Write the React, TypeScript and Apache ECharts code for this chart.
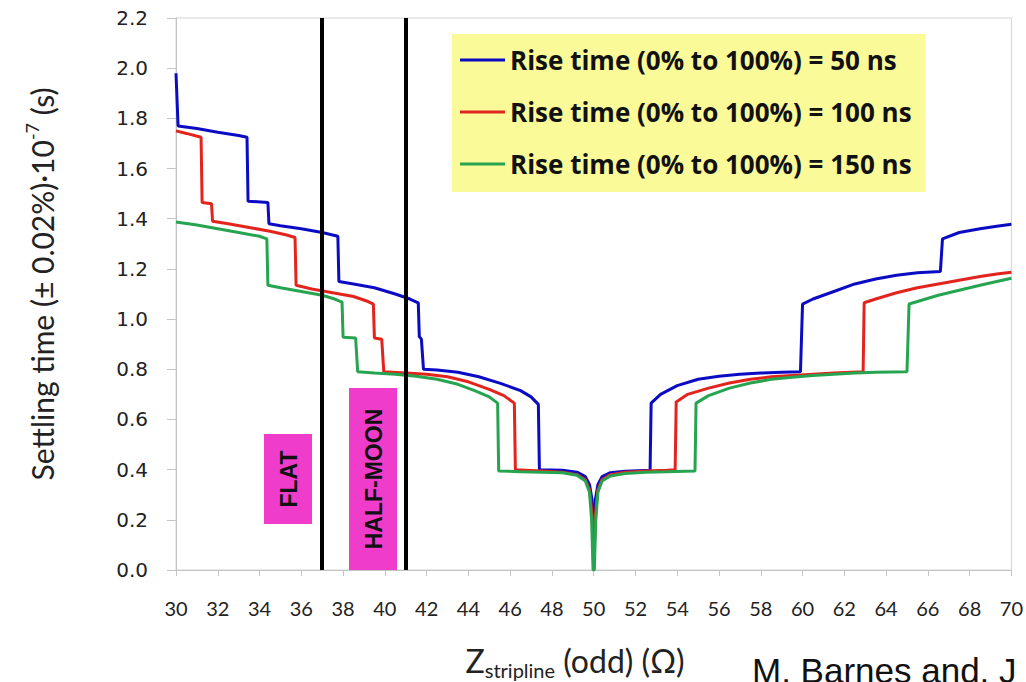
import React, { useEffect, useRef } from "react";
import * as echarts from "echarts";

const seriesNames = [
  "Rise time (0% to 100%) = 50 ns",
  "Rise time (0% to 100%) = 100 ns",
  "Rise time (0% to 100%) = 150 ns",
];

const blue50: number[][] = [
  [30.0, 1.98], [30.1, 1.77], [31.0, 1.76], [32.0, 1.745], [33.0, 1.732], [33.4, 1.725],
  [33.45, 1.47], [34.4, 1.465], [34.45, 1.38], [35.0, 1.372], [36.0, 1.36], [37.0, 1.345],
  [37.75, 1.33], [37.8, 1.15], [38.5, 1.14], [39.5, 1.125], [40.5, 1.1], [41.2, 1.08],
  [41.6, 1.065], [41.65, 0.93], [41.75, 0.92], [41.85, 0.8], [42.5, 0.797], [43.5, 0.788],
  [44.5, 0.77], [45.5, 0.745], [46.5, 0.715], [47.0, 0.69], [47.35, 0.66], [47.4, 0.4],
  [48.5, 0.398], [49.2, 0.39], [49.6, 0.372], [49.8, 0.34], [49.92, 0.28], [50.0, 0.12],
  [50.08, 0.28], [50.2, 0.34], [50.4, 0.372], [50.8, 0.388], [51.5, 0.394], [52.7, 0.398],
  [52.75, 0.665], [53.2, 0.7], [54.0, 0.735], [55.0, 0.76], [56.0, 0.772], [57.0, 0.78],
  [58.0, 0.785], [59.0, 0.788], [59.9, 0.79], [60.0, 1.06], [60.5, 1.08], [61.5, 1.11],
  [62.5, 1.14], [63.5, 1.16], [64.5, 1.175], [65.5, 1.185], [66.6, 1.19], [66.7, 1.32],
  [67.5, 1.345], [68.5, 1.36], [69.3, 1.37], [70.0, 1.378],
];

const red100: number[][] = [
  [30.0, 1.75], [30.5, 1.74], [31.2, 1.725], [31.25, 1.465], [31.7, 1.46], [31.75, 1.39],
  [32.5, 1.38], [33.5, 1.365], [34.5, 1.35], [35.3, 1.335], [35.7, 1.325], [35.75, 1.135],
  [36.5, 1.12], [37.5, 1.105], [38.5, 1.09], [39.2, 1.07], [39.45, 1.06], [39.5, 0.925],
  [39.85, 0.92], [39.95, 0.79], [41.0, 0.785], [42.0, 0.78], [43.0, 0.77], [44.0, 0.75],
  [45.0, 0.72], [45.7, 0.695], [46.2, 0.665], [46.25, 0.4], [47.5, 0.395], [48.5, 0.39],
  [49.2, 0.38], [49.6, 0.36], [49.8, 0.32], [49.92, 0.22], [50.0, 0.0], [50.08, 0.22],
  [50.2, 0.32], [50.4, 0.36], [50.8, 0.38], [51.5, 0.39], [52.5, 0.395], [53.5, 0.398],
  [53.9, 0.4], [53.95, 0.67], [54.5, 0.7], [55.5, 0.725], [56.5, 0.745], [57.5, 0.76],
  [58.5, 0.77], [59.5, 0.775], [60.5, 0.78], [61.5, 0.785], [62.9, 0.79], [62.95, 1.065],
  [63.5, 1.08], [64.5, 1.105], [65.5, 1.125], [66.5, 1.14], [67.5, 1.155], [68.5, 1.17],
  [69.3, 1.18], [70.0, 1.187],
];

const green150: number[][] = [
  [30.0, 1.387], [31.0, 1.375], [32.0, 1.36], [33.0, 1.345], [34.0, 1.33], [34.35, 1.32],
  [34.4, 1.135], [35.0, 1.125], [36.0, 1.11], [37.0, 1.095], [37.6, 1.08], [37.95, 1.068],
  [38.0, 0.928], [38.6, 0.925], [38.7, 0.79], [39.5, 0.785], [40.5, 0.78], [41.5, 0.772],
  [42.5, 0.76], [43.5, 0.74], [44.3, 0.715], [45.0, 0.69], [45.4, 0.665], [45.45, 0.395],
  [46.5, 0.392], [47.5, 0.39], [48.5, 0.388], [49.2, 0.378], [49.6, 0.355], [49.8, 0.31],
  [49.9, 0.2], [49.97, 0.0], [50.03, 0.0], [50.1, 0.2], [50.2, 0.31], [50.4, 0.355],
  [50.8, 0.375], [51.5, 0.385], [52.5, 0.39], [53.5, 0.392], [54.85, 0.395], [54.9, 0.665],
  [55.5, 0.695], [56.5, 0.725], [57.5, 0.745], [58.5, 0.76], [59.5, 0.768], [60.5, 0.775],
  [61.5, 0.78], [62.5, 0.785], [63.5, 0.788], [65.0, 0.79], [65.1, 1.06], [65.5, 1.07],
  [66.5, 1.095], [67.5, 1.115], [68.5, 1.135], [69.3, 1.15], [70.0, 1.163],
];

const boundaryLines = [37, 41];
const colors = ["#0b0bc4", "#e3241d", "#27a450"];

export default function App() {
  const ref = useRef<HTMLDivElement>(null);
  useEffect(() => {
    if (!ref.current) return;
    const chart = echarts.init(ref.current, null, { renderer: "svg" });
    const datasets = [blue50, red100, green150];
    chart.setOption({
      animation: false,
      backgroundColor: "#ffffff",
      grid: {
        left: 176, right: 14, top: 18, bottom: 112,
        show: true, borderColor: "#d4d4d4", borderWidth: 1,
      },
      legend: {
        show: true,
        orient: "vertical",
        left: 452,
        top: 34,
        padding: [12, 14, 14, 8],
        backgroundColor: "#fbfa98",
        itemWidth: 45,
        itemHeight: 3,
        itemGap: 24,
        icon: "rect",
        textStyle: {
          fontFamily: "Open Sans",
          fontWeight: "bold",
          fontSize: 26,
          color: "#111",
          lineHeight: 28,
        },
        data: seriesNames,
      },
      xAxis: {
        type: "value",
        min: 30,
        max: 70,
        interval: 2,
        axisLine: { show: true, lineStyle: { color: "#c4c4c4", width: 1 } },
        axisTick: { show: true, length: 6, lineStyle: { color: "#c4c4c4" } },
        splitLine: { show: false },
        axisLabel: {
          fontFamily: "Lato",
          fontSize: 20,
          color: "#222",
          margin: 28,
        },
      },
      yAxis: {
        type: "value",
        min: 0,
        max: 2.2,
        interval: 0.2,
        axisLine: { show: true, lineStyle: { color: "#c4c4c4", width: 1 } },
        axisTick: { show: true, length: 9, lineStyle: { color: "#c4c4c4" } },
        splitLine: { show: false },
        axisLabel: {
          fontFamily: "DejaVu Sans",
          fontSize: 20,
          color: "#222",
          margin: 28,
          formatter: (v: number) => v.toFixed(1),
        },
      },
      series: datasets.map((d, i) => ({
        name: seriesNames[i],
        type: "line",
        data: d,
        showSymbol: false,
        symbol: "none",
        lineStyle: { color: colors[i], width: 3 },
        itemStyle: { color: colors[i] },
        markLine:
          i === 2
            ? {
                silent: true,
                symbol: "none",
                label: { show: false },
                lineStyle: { color: "#000", width: 4, type: "solid" },
                data: boundaryLines.map((x) => ({ xAxis: x })),
              }
            : undefined,
      })),
      graphic: [
        { type: "rect", shape: { x: 264, y: 434, width: 48, height: 90 }, style: { fill: "#f03ccb" }, z: 1 },
        { type: "rect", shape: { x: 349, y: 388, width: 48, height: 182 }, style: { fill: "#f03ccb" }, z: 1 },
        {
          type: "text", x: 289, y: 479, rotation: Math.PI / 2, z: 2,
          style: { text: "FLAT", fontFamily: "Liberation Sans", fontWeight: "bold", fontSize: 23, fill: "#111", align: "center", verticalAlign: "middle" },
        },
        {
          type: "text", x: 374, y: 479, rotation: Math.PI / 2, z: 2,
          style: { text: "HALF-MOON", fontFamily: "Liberation Sans", fontWeight: "bold", fontSize: 23, fill: "#111", align: "center", verticalAlign: "middle" },
        },
        {
          type: "text", x: 40, y: 284, rotation: Math.PI / 2,
          style: {
            text: "{a|Settling time (± 0.02%)·10}{s|-7}{a| (s)}",
            align: "center",
            verticalAlign: "middle",
            rich: {
              a: { fontFamily: "Lato", fontSize: 30, fill: "#222", lineHeight: 34, verticalAlign: "bottom" },
              s: { fontFamily: "Lato", fontSize: 18, fill: "#222", lineHeight: 18, verticalAlign: "top" },
            },
          },
        },
        {
          type: "text", x: 575, y: 662,
          style: {
            text: "{z|Z}{b|stripline}{z| (odd) (Ω)}",
            align: "center",
            verticalAlign: "middle",
            rich: {
              z: { fontFamily: "Lato", fontSize: 32, fill: "#222", lineHeight: 36, verticalAlign: "top" },
              b: { fontFamily: "Lato", fontSize: 20, fill: "#222", lineHeight: 22, verticalAlign: "bottom" },
            },
          },
        },
        {
          type: "text", x: 752, y: 670,
          style: {
            text: "M. Barnes and. J",
            fontFamily: "Liberation Sans",
            fontSize: 35,
            fill: "#111",
            align: "left",
            verticalAlign: "middle",
          },
        },
      ],
    });
    return () => chart.dispose();
  }, []);
  return (
    <div
      ref={ref}
      style={{ position: "fixed", left: 0, top: 0, width: 1026, height: 682, background: "#fff" }}
    />
  );
}
